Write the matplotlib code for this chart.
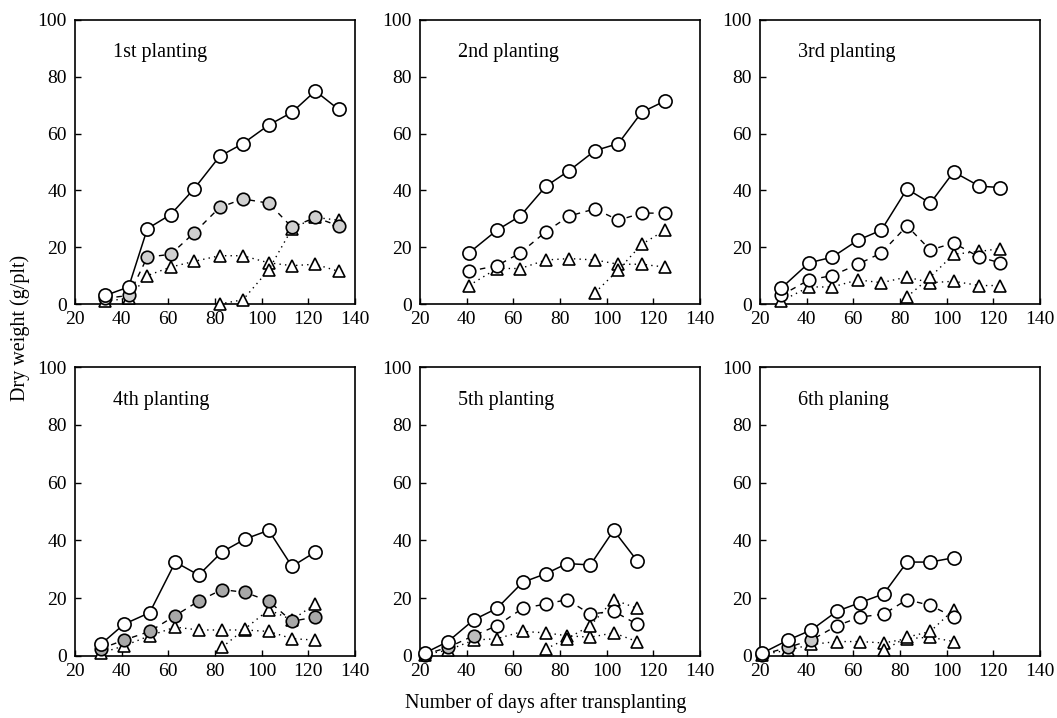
import matplotlib
matplotlib.use('Agg')
import matplotlib.pyplot as plt

plt.rcParams['font.family'] = ['Liberation Serif', 'DejaVu Serif']

# ---- data (days after transplanting, dry weight g/plt) ----
titles = ['1st planting', '2nd planting', '3rd planting',
          '4th planting', '5th planting', '6th planing']

p1_days = [33, 43, 51, 61, 71, 82, 92, 103, 113, 123, 133]
p1_total = [3, 6, 26.5, 31.5, 40.5, 52, 56.5, 63, 67.5, 75, 68.5]
p1_circ = [2, 3, 16.5, 17.5, 25, 34, 37, 35.5, 27, 30.5, 27.5]
p1_triA = [1, 2, 10, 13, 15, 17, 17, 14.5, 13.5, 14, 11.5]
p1_triB_days = [82, 92, 103, 113, 123, 133]
p1_triB = [0, 1.5, 12, 26.5, 30.5, 29.5]

p2_days = [41, 53, 63, 74, 84, 95, 105, 115, 125]
p2_total = [18, 26, 31, 41.5, 47, 54, 56.5, 67.5, 71.5]
p2_circ = [11.5, 13.5, 18, 25.5, 31, 33.5, 29.5, 32, 32]
p2_triA = [6.5, 12.5, 12.5, 15.5, 16, 15.5, 14, 14, 13]
p2_triB_days = [95, 105, 115, 125]
p2_triB = [4, 12, 21, 26]

p3_days = [29, 41, 51, 62, 72, 83, 93, 103, 114, 123]
p3_total = [5.5, 14.5, 16.5, 22.5, 26, 40.5, 35.5, 46.5, 41.5, 41]
p3_circ = [3, 8.5, 10, 14, 18, 27.5, 19, 21.5, 16.5, 14.5]
p3_triA = [1, 6, 6, 8.5, 7.5, 9.5, 7.5, 8, 6.5, 6.5]
p3_triB_days = [83, 93, 103, 114, 123]
p3_triB = [2.5, 9.5, 17.5, 18.5, 19.5]

p4_days = [31, 41, 52, 63, 73, 83, 93, 103, 113, 123]
p4_total = [4, 11, 15, 32.5, 28, 36, 40.5, 43.5, 31, 36]
p4_circ = [2.5, 5.5, 8.5, 14, 19, 23, 22, 19, 12, 13.5]
p4_triA = [1, 3.5, 7, 10, 9, 9, 9, 8.5, 6, 5.5]
p4_triB_days = [83, 93, 103, 113, 123]
p4_triB = [3, 9.5, 16, 12.5, 18]

p5_days = [22, 32, 43, 53, 64, 74, 83, 93, 103, 113]
p5_total = [1, 5, 12.5, 16.5, 25.5, 28.5, 32, 31.5, 43.5, 33]
p5_circ = [0.5, 3, 7, 10.5, 16.5, 18, 19.5, 14.5, 15.5, 11]
p5_triA = [0.5, 2, 5.5, 6, 8.5, 8, 7, 6.5, 8, 5]
p5_triB_days = [74, 83, 93, 103, 113]
p5_triB = [2.5, 6, 10.5, 19.5, 16.5]

p6_days = [21, 32, 42, 53, 63, 73, 83, 93, 103]
p6_total = [1, 5.5, 9, 15.5, 18.5, 21.5, 32.5, 32.5, 34]
p6_circ = [0.5, 3, 5.5, 10.5, 13.5, 14.5, 19.5, 17.5, 13.5]
p6_triA = [0.5, 2, 4, 5, 5, 4.5, 6, 6.5, 5]
p6_triB_days = [73, 83, 93, 103]
p6_triB = [2, 6.5, 8.5, 16]

panels = [
    (p1_days, p1_total, p1_circ, p1_triA, p1_triB_days, p1_triB),
    (p2_days, p2_total, p2_circ, p2_triA, p2_triB_days, p2_triB),
    (p3_days, p3_total, p3_circ, p3_triA, p3_triB_days, p3_triB),
    (p4_days, p4_total, p4_circ, p4_triA, p4_triB_days, p4_triB),
    (p5_days, p5_total, p5_circ, p5_triA, p5_triB_days, p5_triB),
    (p6_days, p6_total, p6_circ, p6_triA, p6_triB_days, p6_triB),
]

# style: how many of the dashed-series circles are shaded, and the shade
shaded = [11, 0, 0, 10, 3, 3]
shade_col = ['#d0d0d0', '#d0d0d0', '#d0d0d0', '#a8a8a8', '#bcbcbc', '#c8c8c8']

W, H = 1057, 718
fig = plt.figure(figsize=(W / 100, H / 100), dpi=100)

lefts = [75, 420, 760]
rows = [(20, 304), (367, 656)]
width = 280

for i, (days, total, circ, triA, triB_days, triB) in enumerate(panels):
    top, bot = rows[i // 3]
    left = lefts[i % 3]
    ax = fig.add_axes([left / W, 1 - bot / H, width / W, (bot - top) / H])

    mk = dict(markeredgecolor='black', markeredgewidth=1.2, clip_on=False)
    # dotted triangles (two series)
    ax.plot(days, triA, linestyle=(0, (1, 3)), color='black', lw=1.0,
            marker='^', markersize=8, markerfacecolor='white', zorder=3, **mk)
    ax.plot(triB_days, triB, linestyle=(0, (1, 3)), color='black', lw=1.0,
            marker='^', markersize=8, markerfacecolor='white', zorder=3, **mk)
    # dashed circles
    ax.plot(days, circ, linestyle=(0, (4, 4)), color='black', lw=1.0, zorder=4)
    fc = [shade_col[i] if k < shaded[i] else 'white' for k in range(len(days))]
    for d, v, c in zip(days, circ, fc):
        ax.plot([d], [v], marker='o', markersize=9, markerfacecolor=c,
                linestyle='none', zorder=5, **mk)
    # solid circles (total)
    ax.plot(days, total, linestyle='-', color='black', lw=1.1,
            marker='o', markersize=9.5, markerfacecolor='white', zorder=6, **mk)

    ax.set_xlim(20, 140)
    ax.set_ylim(0, 100)
    ax.set_xticks(range(20, 141, 20))
    ax.set_yticks(range(0, 101, 20))
    ax.tick_params(direction='in', length=4, width=1, labelsize=14,
                   pad=5, colors='black')
    ax.tick_params(axis='y', pad=6)
    for s in ax.spines.values():
        s.set_linewidth(1.2)
        s.set_color('black')
    ax.text(0.135, 0.885, titles[i], transform=ax.transAxes, fontsize=14.5,
            ha='left', va='center')

fig.text(0.019, 0.543, 'Dry weight (g/plt)', rotation=90, fontsize=14.5,
         ha='center', va='center')
fig.text(0.516, 0.021, 'Number of days after transplanting', fontsize=14.5,
         ha='center', va='center')

fig.savefig('out.png', dpi=100, facecolor='white')
